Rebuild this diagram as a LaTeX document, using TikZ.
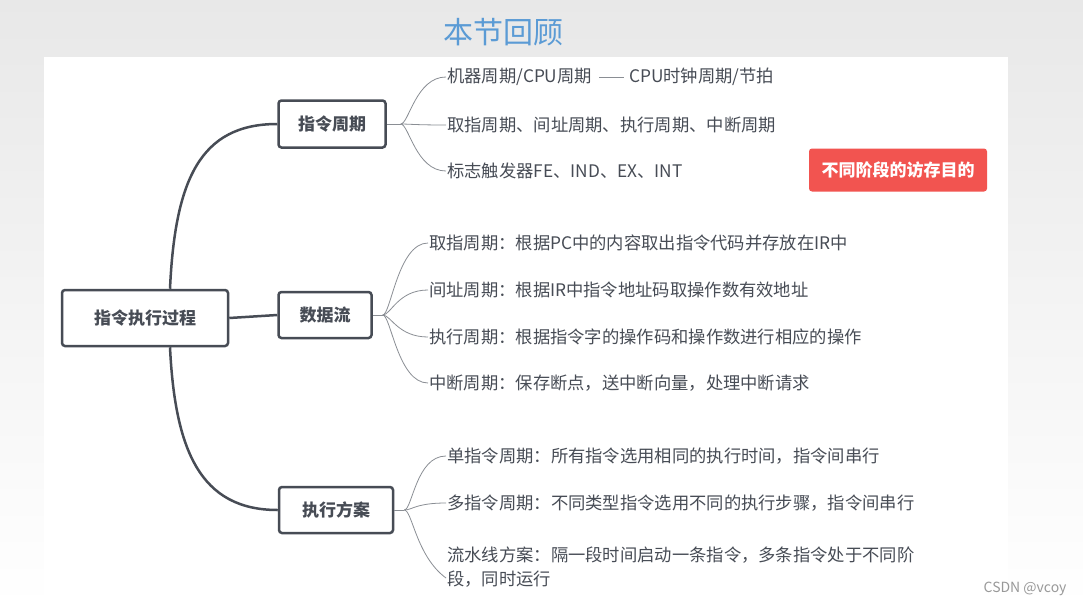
\documentclass[tikz,border=0pt]{standalone}
\usepackage{fontspec}
\setmainfont{Noto Sans CJK SC}
\usetikzlibrary{positioning}
\definecolor{ink}{HTML}{474C55}
\definecolor{twig}{HTML}{8A8E94}
\definecolor{titleblue}{HTML}{5B9BD5}
\definecolor{alert}{HTML}{F25450}
\begin{document}
\begin{tikzpicture}[x=1pt,y=-1pt,
    topic/.style={draw=ink,line width=2.5pt,rounded corners=3pt,fill=white,
      font=\fontsize{17}{20}\selectfont\bfseries,text=ink,inner sep=0pt},
    leaf/.style={anchor=west,font=\fontsize{17.3}{24}\selectfont,text=ink,inner sep=1pt,align=left},
    trunk/.style={draw=ink,line width=2.5pt},
    twigline/.style={draw=twig,line width=0.8pt}]
  % background
  \shade[top color=gray!18,bottom color=white] (0,0) rectangle (1083,608);
  \useasboundingbox (0,0) rectangle (1083,608);
  \fill[white] (44,57) rectangle (1008,608);
  \node[font=\fontsize{30}{34}\selectfont,text=titleblue] (title) at (503,32) {本节回顾};

  % main topics
  \node[topic,minimum width=166pt,minimum height=56pt] (root) at (145,318) {指令执行过程};
  \node[topic,minimum width=107pt,minimum height=47pt] (cycle) at (332,124) {指令周期};
  \node[topic,minimum width=93pt,minimum height=46pt] (flow) at (325,315) {数据流};
  \node[topic,minimum width=114pt,minimum height=46pt] (plan) at (336,510) {执行方案};
  \node[fill=alert,rounded corners=3pt,minimum width=178pt,minimum height=43pt,
    text=white,font=\fontsize{17}{20}\selectfont\bfseries] (goal) at (898,170) {不同阶段的访存目的};

  \draw[trunk] (root.north) ++(25,0) coordinate (rt) .. controls (175,180) and (200,124) .. (cycle.west);
  \draw[trunk] (root.east) -- (flow.west);
  \draw[trunk] (root.south) ++(25,0) coordinate (rb) .. controls (175,450) and (200,510) .. (plan.west);

  % leaves of 指令周期
  \node[leaf] (c1) at (446,77) {机器周期/CPU周期};
  \node[leaf] (c1b) at (628,77) {CPU时钟周期/节拍};
  \node[leaf] (c2) at (446,125) {取指周期、间址周期、执行周期、中断周期};
  \node[leaf] (c3) at (446,171) {标志触发器FE、IND、EX、INT};
  \draw[twigline] ([xshift=6]c1.east) -- ([xshift=-4]c1b.west);
  \draw[twigline] (cycle.east) -- ++(14,0) coordinate (cj);
  \foreach \n in {c1,c2,c3}
    \draw[twigline] (cj) .. controls ++(8,0) and ([xshift=-30]\n.west) .. (\n.west);

  % leaves of 数据流
  \node[leaf] (f1) at (428,243) {取指周期：根据PC中的内容取出指令代码并存放在IR中};
  \node[leaf] (f2) at (428,290) {间址周期：根据IR中指令地址码取操作数有效地址};
  \node[leaf] (f3) at (428,337) {执行周期：根据指令字的操作码和操作数进行相应的操作};
  \node[leaf] (f4) at (428,383) {中断周期：保存断点，送中断向量，处理中断请求};
  \draw[twigline] (flow.east) -- ++(10,0) coordinate (fj);
  \foreach \n in {f1,f2,f3,f4}
    \draw[twigline] (fj) .. controls ++(8,0) and ([xshift=-30]\n.west) .. (\n.west);

  % leaves of 执行方案
  \node[leaf] (p1) at (446,456) {单指令周期：所有指令选用相同的执行时间，指令间串行};
  \node[leaf] (p2) at (446,503) {多指令周期：不同类型指令选用不同的执行步骤，指令间串行};
  \node[leaf] (p3) at (446,567) {流水线方案：隔一段时间启动一条指令，多条指令处于不同阶\\段，同时运行};
  \draw[twigline] (plan.east) -- ++(10,0) coordinate (pj);
  \foreach \n in {p1,p2}
    \draw[twigline] (pj) .. controls ++(8,0) and ([xshift=-30]\n.west) .. (\n.west);
  \draw[twigline] (pj) .. controls ++(8,0) and (416,556) .. ([yshift=-11]p3.west);

  \node[anchor=east,font=\fontsize{14}{16}\selectfont,text=gray!80] (mark) at (1070,589) {CSDN @vcoy};
\end{tikzpicture}
\end{document}
